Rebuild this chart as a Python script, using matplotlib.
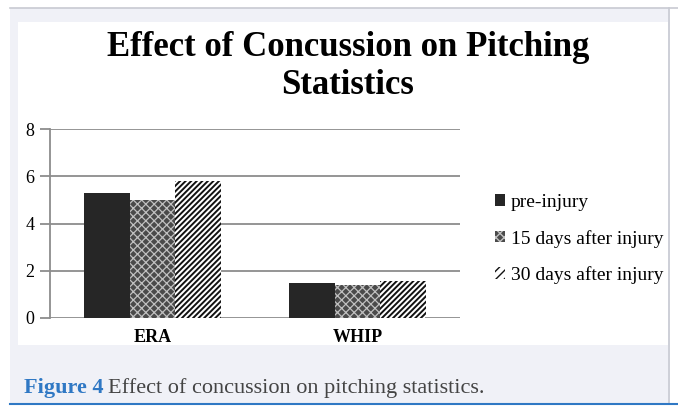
import matplotlib.pyplot as plt
import numpy as np
from matplotlib.patches import Rectangle
from matplotlib.lines import Line2D

categories = ["ERA", "WHIP"]
series_names = ["pre-injury", "15 days after injury", "30 days after injury"]
pre_injury = [5.31, 1.46]
days_15 = [5.0, 1.39]
days_30 = [5.8, 1.56]
y_ticks = [0, 2, 4, 6, 8]

W, H = 678, 407
plt.rcParams["font.family"] = ["Liberation Serif", "DejaVu Serif"]

fig = plt.figure(figsize=(W / 100, H / 100), dpi=100, facecolor="white")


def px_rect(x0, y0, x1, y1):
    # pixel box (top-left origin) -> figure fraction rect
    return (x0 / W, 1 - y1 / H, (x1 - x0) / W, (y1 - y0) / H)


# page backdrop, white chart panel and borders
bx, by, bw, bh = px_rect(10, 8, 670, 404)
fig.patches.append(Rectangle((bx, by), bw, bh, transform=fig.transFigure,
                             facecolor="#f0f1f7", edgecolor="none", zorder=-2))
wx, wy, ww, wh = px_rect(18, 22, 668, 345)
fig.patches.append(Rectangle((wx, wy), ww, wh, transform=fig.transFigure,
                             facecolor="white", edgecolor="none", zorder=-1))
fig.add_artist(Line2D([10 / W, 1], [1 - 8 / H] * 2, color="#c8cad2", lw=1.2))
fig.add_artist(Line2D([669 / W] * 2, [1 - 8 / H, 1 - 404 / H], color="#c8cad2", lw=1.2))
fig.add_artist(Line2D([10 / W, 1], [1 - 404 / H] * 2, color="#2f78c4", lw=1.5))

ax = fig.add_axes(px_rect(50, 129.3, 460, 317.7))
ax.set_facecolor("none")
ax.set_zorder(2)

x = np.arange(len(categories))
bw_ = 0.222
ax.bar(x - bw_, pre_injury, bw_, color="#262626", edgecolor="#262626", lw=0, zorder=3)
# hatch width is picked up when each patch is made
with plt.rc_context({"hatch.linewidth": 0.9}):
    ax.bar(x, days_15, bw_, color="#4a4a4a", edgecolor="#c0c0c0", hatch="xxxx", lw=0, zorder=3)
    dot_handle = Rectangle((0, 0), 1, 1, facecolor="#4a4a4a", edgecolor="#c0c0c0",
                           hatch="xxxx", lw=0)
with plt.rc_context({"hatch.linewidth": 1.4}):
    ax.bar(x + bw_, days_30, bw_, color="white", edgecolor="#111111", hatch="//////",
           lw=0, zorder=3)
    stripe_handle = Rectangle((0, 0), 1, 1, facecolor="white", edgecolor="#111111",
                              hatch="////", lw=0)

ax.set_xlim(-0.5, 1.5)
ax.set_ylim(0, 8)
ax.set_yticks(y_ticks)
ax.set_yticklabels([str(t) for t in y_ticks], fontsize=13)
ax.yaxis.grid(True, color="#8c8c8c", lw=1.3)
ax.set_axisbelow(True)
ax.tick_params(axis="y", length=7, color="#8c8c8c", width=1.3, pad=4)
ax.set_xticks(x)
ax.set_xticklabels(categories, fontsize=13, fontweight="bold")
ax.tick_params(axis="x", length=0, pad=8)
for side in ["top", "right", "bottom"]:
    ax.spines[side].set_visible(False)
ax.spines["left"].set_color("#8c8c8c")
ax.spines["left"].set_linewidth(1.3)

handles = [
    Rectangle((0, 0), 1, 1, facecolor="#262626", lw=0),
    dot_handle,
    stripe_handle,
]
fig.legend(handles, series_names, loc="center left",
           bbox_to_anchor=(477 / W, 1 - 239 / H), frameon=False,
           fontsize=14, handlelength=0.55, handleheight=0.55,
           handletextpad=0.3, labelspacing=0.95)

fig.text(348 / W, 1 - 48 / H, "Effect of Concussion on Pitching",
         ha="center", va="center", fontsize=25, fontweight="bold")
fig.text(348 / W, 1 - 86 / H, "Statistics",
         ha="center", va="center", fontsize=25, fontweight="bold")

cap1 = fig.text(24 / W, 1 - 388 / H, "Figure 4", ha="left", va="center",
                fontsize=16, fontweight="bold", color="#2f78c4")
fig.canvas.draw()
bb = cap1.get_window_extent()
fig.text((bb.x1 + 5) / W, 1 - 388 / H, "Effect of concussion on pitching statistics.",
         ha="left", va="center", fontsize=16, color="#444444")

fig.savefig("out.png", dpi=100, facecolor="white")
